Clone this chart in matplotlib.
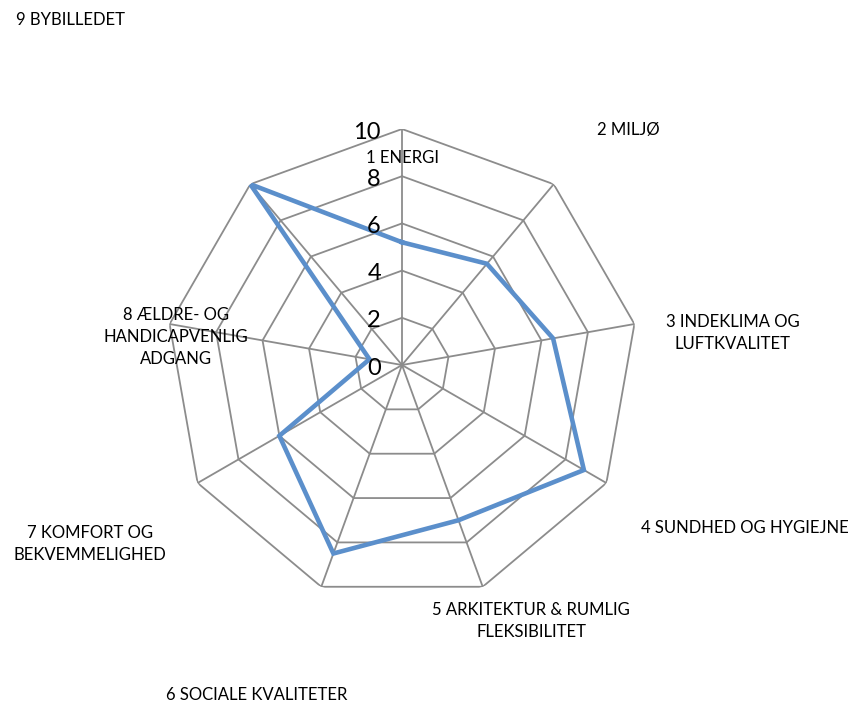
import numpy as np
import matplotlib
matplotlib.use("Agg")
import matplotlib.pyplot as plt
from matplotlib.transforms import offset_copy

plt.rcParams['font.family'] = ['Lato', 'DejaVu Sans']

categories = ['1 ENERGI', '2 MILJØ', '3 INDEKLIMA OG\nLUFTKVALITET',
              '4 SUNDHED OG HYGIEJNE', '5 ARKITEKTUR & RUMLIG\nFLEKSIBILITET',
              '6 SOCIALE KVALITETER', '7 KOMFORT OG\nBEKVEMMELIGHED',
              '8 ÆLDRE- OG\nHANDICAPVENLIG\nADGANG', '9 BYBILLEDET']
values = [5.2, 5.6, 6.5, 8.9, 7.0, 8.5, 6.0, 1.4, 10.0]
ticks = [0, 2, 4, 6, 8, 10]

# where Excel dropped the category labels (figure pixels, from top-left)
label_pos = [(402, 158), (628, 130), (733, 333), (745, 528), (531, 621),
             (257, 695), (90, 544), (176, 337), (70, 20)]

W, H = 851, 704
fig = plt.figure(figsize=(W / 100, H / 100), dpi=100)
cx, cy, R = 402, 365, 236
ax = fig.add_axes([(cx - R) / W, (H - cy - R) / H, 2 * R / W, 2 * R / H],
                  projection='polar')
ax.set_theta_offset(np.pi / 2)
ax.set_theta_direction(-1)
ax.set_ylim(0, 10)
ax.axis('off')

n = len(categories)
theta = np.arange(n) * 2 * np.pi / n
closed = np.append(theta, theta[0])

grid_c = '#8c8c8c'
for r in ticks[1:]:
    ax.plot(closed, [r] * (n + 1), color=grid_c, lw=1.3, zorder=1)
for t in theta:
    ax.plot([t, t], [0, 10], color=grid_c, lw=1.3, zorder=1)

ax.plot(closed, values + [values[0]], color='#5B8FCB', lw=3.3, zorder=3,
        solid_joinstyle='miter')

tick_tr = offset_copy(ax.transData, fig=fig, x=-21, y=-3, units='dots')
for r in ticks:
    ax.text(0, r, str(r), transform=tick_tr, ha='right', va='center',
            fontsize=17, color='black', zorder=4)

for lab, (x, y) in zip(categories, label_pos):
    fig.text(x / W, 1 - y / H, lab, ha='center', va='center', fontsize=12,
             color='black', linespacing=1.45)

fig.savefig('out.png', dpi=100, facecolor='white')
